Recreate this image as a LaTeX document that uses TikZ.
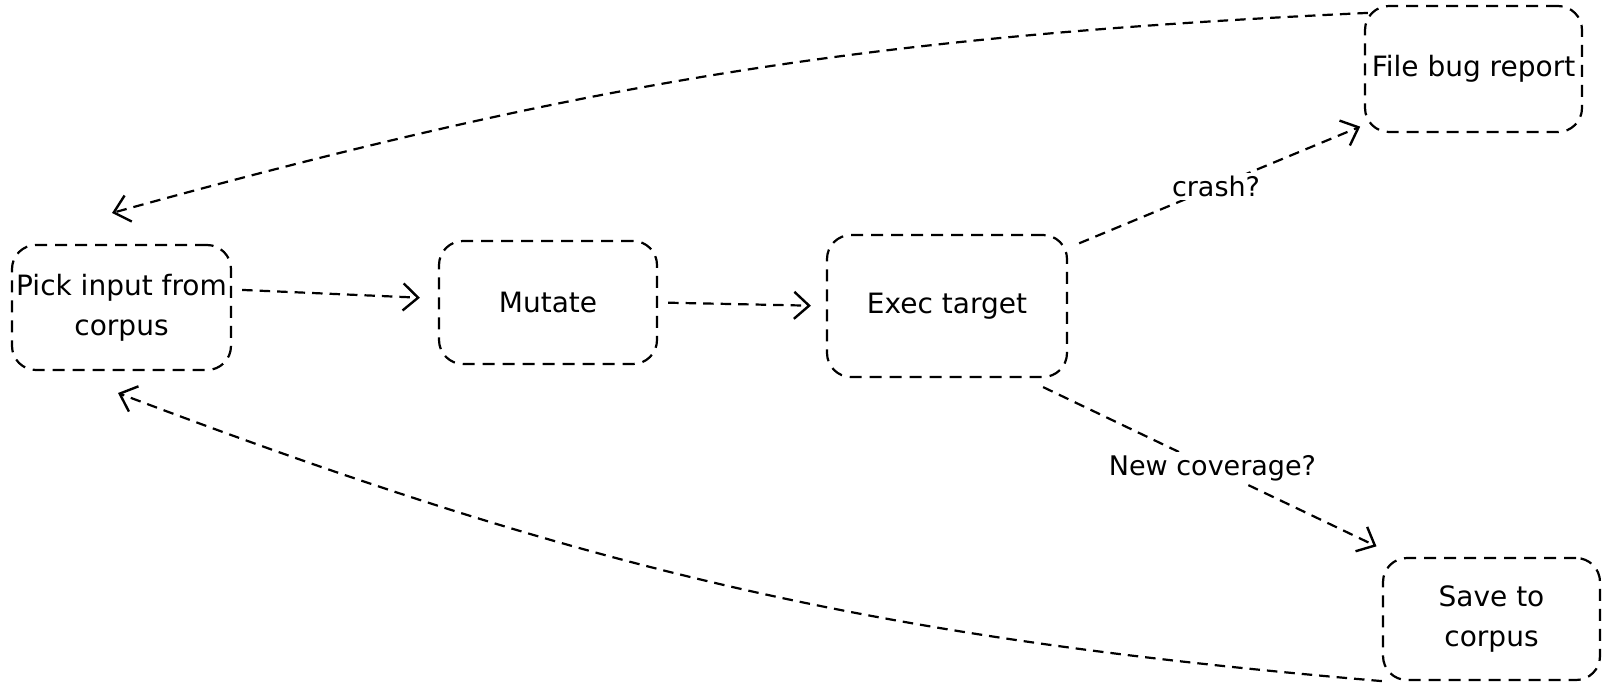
\documentclass[tikz,border=0pt]{standalone}
\usepackage{fontspec}
\setmainfont{DejaVu Sans}
\usetikzlibrary{arrows.meta}

\begin{document}
\begin{tikzpicture}[x=1pt, y=-1pt,
  stage/.style={draw, line width=2.2pt, dash pattern=on 12pt off 8pt, rounded corners=24pt,
    align=center, inner sep=0pt, font=\fontsize{28}{40}\selectfont},
  flow/.style={line width=2.2pt, dash pattern=on 10.5pt off 7pt,
    -{Straight Barb[length=15pt, width=27pt, line width=2.4pt]}},
  tag/.style={fill=white, inner sep=3pt, font=\fontsize{27}{32}\selectfont}]
\useasboundingbox (0,0) rectangle (1602,687);

% Stages of the loop
\node[stage, minimum width=219pt, minimum height=125pt] (pick) at (121.5,307.5) {Pick input from\\corpus};
\node[stage, minimum width=218pt, minimum height=123pt] (mutate) at (548,302.5) {Mutate};
\node[stage, minimum width=240pt, minimum height=142pt] (exec) at (947,306) {Exec target};
\node[stage, minimum width=217pt, minimum height=126pt] (bug) at (1473.5,69) {File bug report};
\node[stage, minimum width=217pt, minimum height=122pt] (save) at (1491.5,619) {Save to\\corpus};

% Free ends of the way back
\coordinate (topin) at (112,213);
\coordinate (botin) at (118,393);

% Forward arrows
\draw[flow, shorten <=10pt, shorten >=18pt] ([yshift=18pt]pick.east) -- ([yshift=4pt]mutate.west);
\draw[flow, shorten <=10pt, shorten >=15pt] (mutate.east) -- (exec.west);
\draw[flow, shorten <=12pt, shorten >=4pt] ([yshift=-14pt]exec.north east) -- ([yshift=8pt]bug.south west)
  node[tag, midway] {crash?};
\draw[flow, shorten >=6pt] ([shift={(-25pt,-9pt)}]exec.south east) -- ([yshift=8pt]save.north west)
  node[tag, midway] {New coverage?};

% Back to the corpus
\draw[flow] ([shift={(4pt,-8pt)}]bug.north west) .. controls (872,36) and (592,80) .. (topin);
\draw[flow] (save.south west) .. controls (877,638) and (593,573) .. (botin);
\end{tikzpicture}
\end{document}
